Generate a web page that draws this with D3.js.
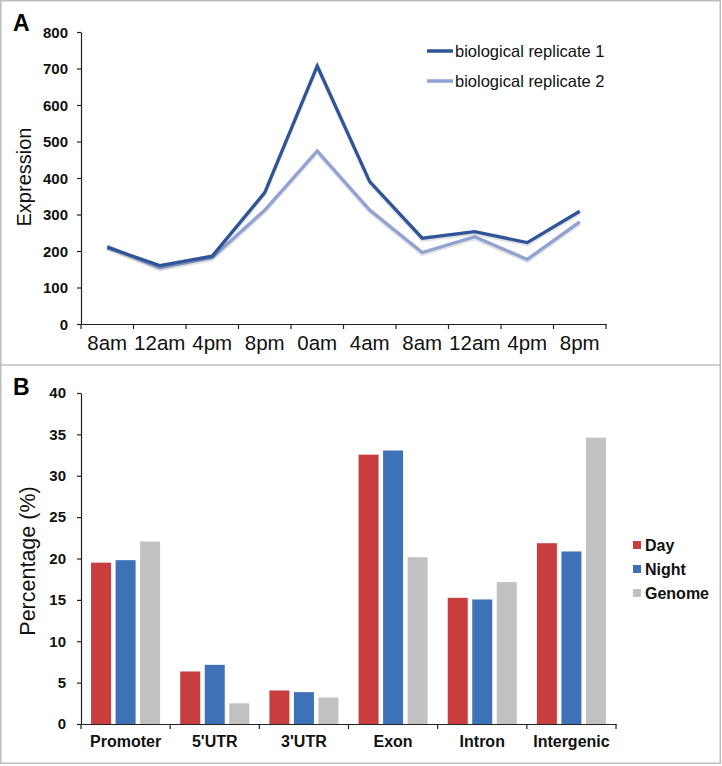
<!DOCTYPE html>
<html><head><meta charset="utf-8">
<script src="https://cdn.jsdelivr.net/npm/d3@7"></script>
<style>body{margin:0;background:#fff;} svg{display:block;font-family:"Liberation Sans",Arial,sans-serif;}</style>
</head><body><svg id="c" width="722" height="766"></svg>
<script>
// Panel A data
const timeLabels = ["8am","12am","4pm","8pm","0am","4am","8am","12am","4pm","8pm"];
const rep1 = [210,160,186,360,707,390,235,253,223,309];
const rep2 = [213,154,182,312,474,312,196,239,177,280];
const seriesNamesA = ["biological replicate 1","biological replicate 2"];
const yTicksA = [0,100,200,300,400,500,600,700,800];
// Panel B data
const regions = ["Promoter","5'UTR","3'UTR","Exon","Intron","Intergenic"];
const seriesNamesB = ["Day","Night","Genome"];
const dayVals = [19.5,6.35,4.05,32.55,15.25,21.85];
const nightVals = [19.8,7.15,3.85,33.05,15.05,20.85];
const genomeVals = [22.05,2.5,3.2,20.15,17.15,34.6];
const yTicksB = [0,5,10,15,20,25,30,35,40];

const colorsA = ["#2e5597","#8fa2d3"];
const colorsB = ["#c83e3f","#3e72b8","#c1c1c1"];

const svg = d3.select("#c");
// frame
svg.append("rect").attr("x",0.75).attr("y",0.75).attr("width",719.5).attr("height",762.5)
  .attr("fill","none").attr("stroke","#bdbdbd").attr("stroke-width",1.5);
svg.append("line").attr("x1",0).attr("x2",721).attr("y1",365).attr("y2",365)
  .attr("stroke","#bdbdbd").attr("stroke-width",1.5);

// ---------- Panel A ----------
const gA = svg.append("g");
const xA = d3.scaleBand().domain(d3.range(timeLabels.length)).range([81,606]);
const yA = d3.scaleLinear().domain([0,800]).range([324,32]);

const yAxisA = gA.append("g").attr("transform","translate(81,0)")
  .call(d3.axisLeft(yA).tickValues(yTicksA).tickSize(4).tickPadding(9).tickSizeOuter(0));
yAxisA.selectAll("text").attr("font-size",15).attr("font-weight","bold").attr("fill","#111").attr("dy","0.35em");
const xAxisA = gA.append("g").attr("transform","translate(0,324)")
  .call(d3.axisBottom(xA).tickSize(0).tickPadding(11).tickFormat(i=>timeLabels[i]));
xAxisA.selectAll("text").attr("font-size",20.5).attr("fill","#111");
// tick marks at band boundaries
gA.append("g").selectAll("line").data(d3.range(timeLabels.length+1)).join("line")
  .attr("x1",i=>81+i*xA.step()).attr("x2",i=>81+i*xA.step())
  .attr("y1",324).attr("y2",329).attr("stroke","#222").attr("stroke-width",1.2);
[yAxisA,xAxisA].forEach(a=>a.selectAll("path,line").attr("stroke","#222").attr("stroke-width",1.2));

const lineA = d3.line().x((d,i)=>xA(i)+xA.bandwidth()/2).y(d=>yA(d));
[rep2, rep1].forEach((s,k)=>{
  const idx = k===0?1:0;
  gA.append("path").datum(s).attr("d",lineA).attr("fill","none")
    .attr("stroke","rgba(0,0,0,0.12)").attr("stroke-width",3.2).attr("transform","translate(0,2)");
  gA.append("path").datum(s).attr("d",lineA).attr("fill","none")
    .attr("stroke",colorsA[idx]).attr("stroke-width",3.3).attr("stroke-linejoin","miter");
});
gA.append("text").attr("transform","translate(31,177) rotate(-90)").attr("text-anchor","middle")
  .attr("font-size",20).attr("fill","#111").text("Expression");
gA.append("text").attr("x",13).attr("y",31).attr("font-size",23).attr("font-weight","bold").text("A");
// legend A
seriesNamesA.forEach((n,i)=>{
  const y = 51 + i*30;
  gA.append("line").attr("x1",427).attr("x2",453).attr("y1",y).attr("y2",y)
    .attr("stroke",colorsA[i]).attr("stroke-width",3.5);
  gA.append("text").attr("x",455).attr("y",y).attr("dy","0.35em").attr("font-size",16.5)
    .attr("fill","#111").text(n);
});

// ---------- Panel B ----------
const gB = svg.append("g");
const xB = d3.scaleBand().domain(regions).range([81,616]);
const xInner = d3.scaleBand().domain(seriesNamesB).range([0,xB.bandwidth()]).paddingInner(0.184).paddingOuter(0.41);
const yB = d3.scaleLinear().domain([0,40]).range([724,393]);
const valsB = [dayVals,nightVals,genomeVals];

regions.forEach((r,ri)=>{
  seriesNamesB.forEach((s,si)=>{
    gB.append("rect").attr("x",xB(r)+xInner(s)).attr("width",xInner.bandwidth())
      .attr("y",yB(valsB[si][ri])).attr("height",yB(0)-yB(valsB[si][ri]))
      .attr("fill",colorsB[si]);
  });
});
const yAxisB = gB.append("g").attr("transform","translate(81,0)")
  .call(d3.axisLeft(yB).tickValues(yTicksB).tickSize(4).tickPadding(11).tickSizeOuter(0));
yAxisB.selectAll("text").attr("font-size",15).attr("font-weight","bold").attr("fill","#111");
const xAxisB = gB.append("g").attr("transform","translate(0,724)")
  .call(d3.axisBottom(xB).tickSize(0).tickPadding(12).tickSizeOuter(0));
xAxisB.selectAll("text").attr("font-size",16).attr("font-weight","bold").attr("fill","#111");
gB.append("g").selectAll("line").data(d3.range(regions.length+1)).join("line")
  .attr("x1",i=>81+i*xB.step()).attr("x2",i=>81+i*xB.step())
  .attr("y1",724).attr("y2",729).attr("stroke","#222").attr("stroke-width",1.2);
[yAxisB,xAxisB].forEach(a=>a.selectAll("path,line").attr("stroke","#222").attr("stroke-width",1.2));

gB.append("text").attr("transform","translate(35,561) rotate(-90)").attr("text-anchor","middle")
  .attr("font-size",21.5).attr("fill","#111").text("Percentage (%)");
gB.append("text").attr("x",13).attr("y",395).attr("font-size",23).attr("font-weight","bold").text("B");
seriesNamesB.forEach((n,i)=>{
  const y = 545 + i*24;
  gB.append("rect").attr("x",633).attr("y",y-4).attr("width",8).attr("height",8).attr("fill",colorsB[i]);
  gB.append("text").attr("x",645).attr("y",y).attr("dy","0.36em").attr("font-size",16)
    .attr("font-weight","bold").attr("fill","#111").text(n);
});
</script></body></html>
